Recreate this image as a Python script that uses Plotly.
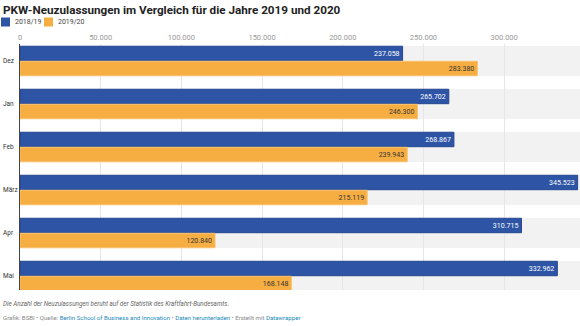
import plotly.graph_objects as go

months = ["Dez", "Jan", "Feb", "März", "Apr", "Mai"]
s1_name = "2018/19"
s2_name = "2019/20"
s1_vals = [237058, 265702, 268867, 345523, 310715, 332962]
s2_vals = [283380, 246300, 239943, 215119, 120840, 168148]
tick_vals = [0, 50000, 100000, 150000, 200000, 250000, 300000]

W, H = 580, 326
ML, MR, MT, MB = 20, 0, 44, 36
PW, PH = W - ML - MR, H - MT - MB

BLUE = "#2e55a5"
BLUE_LINE = "#24468f"
ORANGE = "#f6ae42"
ORANGE_LINE = "#f8c16c"

def px_x(px):
    return (px - ML) / PW

def px_y(py):
    return (H - MB - py) / PH

fig = go.Figure()
fig.add_trace(go.Bar(
    y=months, x=s1_vals, orientation="h", name=s1_name,
    marker=dict(color=BLUE, line=dict(color=BLUE_LINE, width=1)),
    texttemplate="%{x:,}", textposition="inside", insidetextanchor="end",
    textangle=0, insidetextfont=dict(color="white", size=7.5, family="Roboto"),
    cliponaxis=False, hoverinfo="skip",
))
fig.add_trace(go.Bar(
    y=months, x=s2_vals, orientation="h", name=s2_name,
    marker=dict(color=ORANGE, line=dict(color=ORANGE_LINE, width=1)),
    texttemplate="%{x:,}", textposition="inside", insidetextanchor="end",
    textangle=0, insidetextfont=dict(color="#333333", size=7.5, family="Roboto"),
    cliponaxis=False, hoverinfo="skip",
))

shapes = []
for i, m in enumerate(months):
    shapes.append(dict(type="rect", xref="paper", yref="y", x0=0, x1=1,
                       y0=i - 0.35, y1=i + 0.35, fillcolor="#f2f2f2",
                       line=dict(width=0), layer="below"))
# legend squares
shapes.append(dict(type="rect", xref="paper", yref="paper",
                   x0=px_x(1), x1=px_x(10), y0=px_y(26.5), y1=px_y(17.5),
                   fillcolor=BLUE, line=dict(width=0)))
shapes.append(dict(type="rect", xref="paper", yref="paper",
                   x0=px_x(44), x1=px_x(53), y0=px_y(26.5), y1=px_y(17.5),
                   fillcolor=ORANGE, line=dict(width=0)))

annotations = []
for m in months:
    annotations.append(dict(text=m, xref="paper", yref="y", x=px_x(0.5), y=m,
                            xanchor="left", yanchor="middle", showarrow=False,
                            font=dict(size=6.5, color="#333333", family="Roboto")))
annotations.append(dict(text="<b>PKW-Neuzulassungen im Vergleich für die Jahre 2019 und 2020</b>",
                        xref="paper", yref="paper", x=px_x(1), y=px_y(9.5),
                        xanchor="left", yanchor="middle", showarrow=False,
                        font=dict(size=11.7, color="#222222", family="Roboto")))
annotations.append(dict(text=s1_name, xref="paper", yref="paper", x=px_x(13), y=px_y(22),
                        xanchor="left", yanchor="middle", showarrow=False,
                        font=dict(size=7, color="#444444", family="Roboto")))
annotations.append(dict(text=s2_name, xref="paper", yref="paper", x=px_x(56), y=px_y(22),
                        xanchor="left", yanchor="middle", showarrow=False,
                        font=dict(size=7, color="#444444", family="Roboto")))
annotations.append(dict(text="<i>Die Anzahl der Neuzulassungen beruht auf der Statistik des Kraftfahrt-Bundesamts.</i>",
                        xref="paper", yref="paper", x=px_x(1), y=px_y(304),
                        xanchor="left", yanchor="middle", showarrow=False,
                        font=dict(size=6.3, color="#666666", family="Roboto")))
LINK = "#1d8ab8"
footer = ("Grafik: BSBI • Quelle: "
          f"<span style='color:{LINK}'>Berlin School of Business and Innovation</span>"
          f" • <span style='color:{LINK}'>Daten herunterladen</span>"
          f" • Erstellt mit <span style='color:{LINK}'>Datawrapper</span>")
annotations.append(dict(text=footer, xref="paper", yref="paper", x=px_x(1), y=px_y(317),
                        xanchor="left", yanchor="middle", showarrow=False,
                        font=dict(size=6.1, color="#888888", family="Roboto")))

fig.update_layout(
    width=W, height=H,
    margin=dict(l=ML, r=MR, t=MT, b=MB, pad=0),
    paper_bgcolor="white", plot_bgcolor="white",
    barmode="group", bargap=0.3, bargroupgap=0.04,
    separators=",.",
    showlegend=False,
    shapes=shapes, annotations=annotations,
    font=dict(family="Roboto"),
    xaxis=dict(side="top", range=[0, 347000], tickvals=tick_vals, tickformat=",",
               showgrid=True, gridcolor="#e6e6e6", gridwidth=1,
               zeroline=False, showline=False, ticks="", ticklabelstandoff=2,
               tickfont=dict(size=7.5, color="#999999", family="Roboto"),
               fixedrange=True),
    yaxis=dict(range=[5.325, -0.395], showticklabels=False, showgrid=False,
               zeroline=False, showline=True, linecolor="#444444", linewidth=1,
               ticks="", fixedrange=True),
)

fig.write_html("out.html")
